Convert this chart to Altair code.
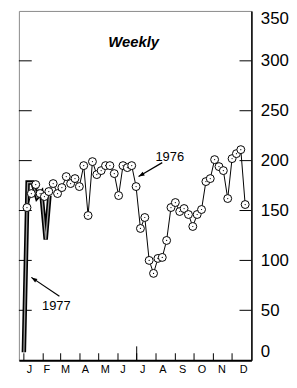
import altair as alt
import pandas as pd

# ---- data ----
days_1976 = [5, 12, 19, 26, 33, 40, 47, 54, 61, 68, 75, 82, 89, 96, 103, 110, 117,
             124, 131, 138, 145, 152, 159, 166, 173, 180, 187, 194, 201, 208, 215,
             222, 229, 236, 243, 250, 257, 264, 271, 278, 285, 292, 299, 306, 313,
             320, 327, 334, 341, 348, 355]
values_1976 = [153, 167, 176, 167, 164, 169, 177, 167, 173, 184, 177, 182, 174, 195,
               145, 199, 186, 190, 195, 195, 187, 165, 195, 193, 195, 174, 132, 143,
               100, 87, 102, 103, 120, 153, 158, 149, 152, 146, 134, 146, 151, 179,
               182, 201, 194, 190, 162, 202, 207, 211, 156]

days_1977 = [0, 6, 14, 21, 28, 35, 41]
values_1977 = [8, 178, 178, 163, 168, 121, 165]

month_labels = ["J", "F", "M", "A", "M", "J", "J", "A", "S", "O", "N", "D"]
month_label_days = [8, 36, 66, 98, 130, 158, 190, 222, 254, 285, 317, 352]
month_start_days = [0, 31, 59, 90, 120, 151, 181, 212, 243, 273, 304, 334]
long_tick_days = [181]
y_tick_values = [50, 100, 150, 200, 250, 300]
y_label_values = [0, 50, 100, 150, 200, 250, 300, 350]

title_text = ["Weekly"]
title_day = [176]
title_val = [319]

series_labels = ["1976", "1977"]
series_label_day = [234, 52]
series_label_val = [204, 54]

arrow_tail_day = [222, 57]
arrow_tail_val = [198, 64]
arrow_head_day = [184, 12]
arrow_head_val = [184, 83]

# ---- chart ----
W, H = 235, 353
xs = alt.Scale(domain=[-8, 365], nice=False, zero=False)
ys = alt.Scale(domain=[0, 350], nice=False, zero=True)

df76 = pd.DataFrame({"day": days_1976, "v": values_1976})
df77 = pd.DataFrame({"day": days_1977, "v": values_1977})
dfm = pd.DataFrame({"day": month_start_days})
dflong = pd.DataFrame({"day": long_tick_days})
dfyt = pd.DataFrame({"v": y_tick_values})
dftitle = pd.DataFrame({"day": title_day, "v": title_val, "t": title_text})
dflab = pd.DataFrame({"day": series_label_day, "v": series_label_val, "t": series_labels})
dfarr = pd.DataFrame({"day": arrow_tail_day, "v": arrow_tail_val,
                      "day2": arrow_head_day, "v2": arrow_head_val})

label_expr = ("[" + ",".join("'%s'" % m for m in month_labels) + "][indexof(["
              + ",".join(str(d) for d in month_label_days) + "], datum.value)]")

x_axis = alt.Axis(values=month_label_days, labelExpr=label_expr, ticks=False,
                  domain=True, domainColor="black", domainWidth=2, grid=False,
                  labelFont="Liberation Sans", labelFontSize=11, labelColor="black",
                  labelPadding=3, labelOverlap=False, labelFlush=False,
                  title=None)
y_axis = alt.Axis(values=y_label_values, orient="right", ticks=False, domain=True,
                  domainColor="black", domainWidth=1.5, grid=False,
                  labelFont="Liberation Sans", labelFontSize=17, labelColor="black",
                  labelPadding=9, labelFlush=True, labelOverlap=False, title=None)

X = lambda f: alt.X(f, scale=xs, axis=x_axis)
Y = lambda f: alt.Y(f, scale=ys, axis=y_axis)

line76 = alt.Chart(df76).mark_line(color="black", strokeWidth=1).encode(
    x=X("day:Q"), y=Y("v:Q"))
pts76 = alt.Chart(df76).mark_point(shape="circle", filled=True, fill="white",
                                   stroke="black", strokeWidth=1, size=64,
                                   opacity=1).encode(x=X("day:Q"), y=Y("v:Q"))
dots76 = alt.Chart(df76).mark_circle(color="black", size=1.5, opacity=1).encode(
    x=X("day:Q"), y=Y("v:Q"))

line77a = alt.Chart(df77).mark_line(color="black", strokeWidth=4.5,
                                    strokeJoin="miter").encode(x=X("day:Q"), y=Y("v:Q"))
line77b = alt.Chart(df77).mark_line(color="#9a9a9a", strokeWidth=1.3,
                                    strokeJoin="miter").encode(x=X("day:Q"), y=Y("v:Q"))

ytick_l = alt.Chart(dfyt).mark_rule(color="black", strokeWidth=1).encode(
    y=Y("v:Q"), x=alt.value(0), x2=alt.value(13))
ytick_r = alt.Chart(dfyt).mark_rule(color="black", strokeWidth=1).encode(
    y=Y("v:Q"), x=alt.value(W - 12), x2=alt.value(W))
xtick = alt.Chart(dfm).mark_rule(color="black", strokeWidth=1).encode(
    x=X("day:Q"), y=alt.value(H), y2=alt.value(H - 7))
xtick_long = alt.Chart(dflong).mark_rule(color="black", strokeWidth=1).encode(
    x=X("day:Q"), y=alt.value(H), y2=alt.value(H - 14))

title_mark = alt.Chart(dftitle).mark_text(font="Liberation Sans", fontSize=15,
                                          fontWeight="bold", fontStyle="italic",
                                          color="black", baseline="middle").encode(
    x=X("day:Q"), y=Y("v:Q"), text="t:N")
lab_mark = alt.Chart(dflab).mark_text(font="Liberation Sans", fontSize=13,
                                      color="black", baseline="middle").encode(
    x=X("day:Q"), y=Y("v:Q"), text="t:N")

arrow_path = "M0,0L0.35,1L-0.35,1Z"
arr_line = alt.Chart(dfarr).mark_rule(color="black", strokeWidth=1.2).encode(
    x=X("day:Q"), y=Y("v:Q"), x2="day2:Q", y2="v2:Q")
head76 = alt.Chart(dfarr.iloc[[0]]).mark_point(shape=arrow_path, filled=True,
                                               color="black", size=144, angle=240,
                                               opacity=1).encode(
    x=X("day2:Q"), y=Y("v2:Q"))
head77 = alt.Chart(dfarr.iloc[[1]]).mark_point(shape=arrow_path, filled=True,
                                               color="black", size=144, angle=304,
                                               opacity=1).encode(
    x=X("day2:Q"), y=Y("v2:Q"))

chart = alt.layer(
    line76, ytick_l, ytick_r, xtick, xtick_long, line77a, line77b, pts76, dots76,
    title_mark, lab_mark, arr_line, head76, head77,
).properties(
    width=W, height=H, padding={"left": 7, "top": 0, "right": 0, "bottom": 0},
    background="white",
).configure_view(stroke="#8a8a8a", strokeWidth=1)

chart.save("out.html", embed_options={"renderer": "svg", "actions": False})
